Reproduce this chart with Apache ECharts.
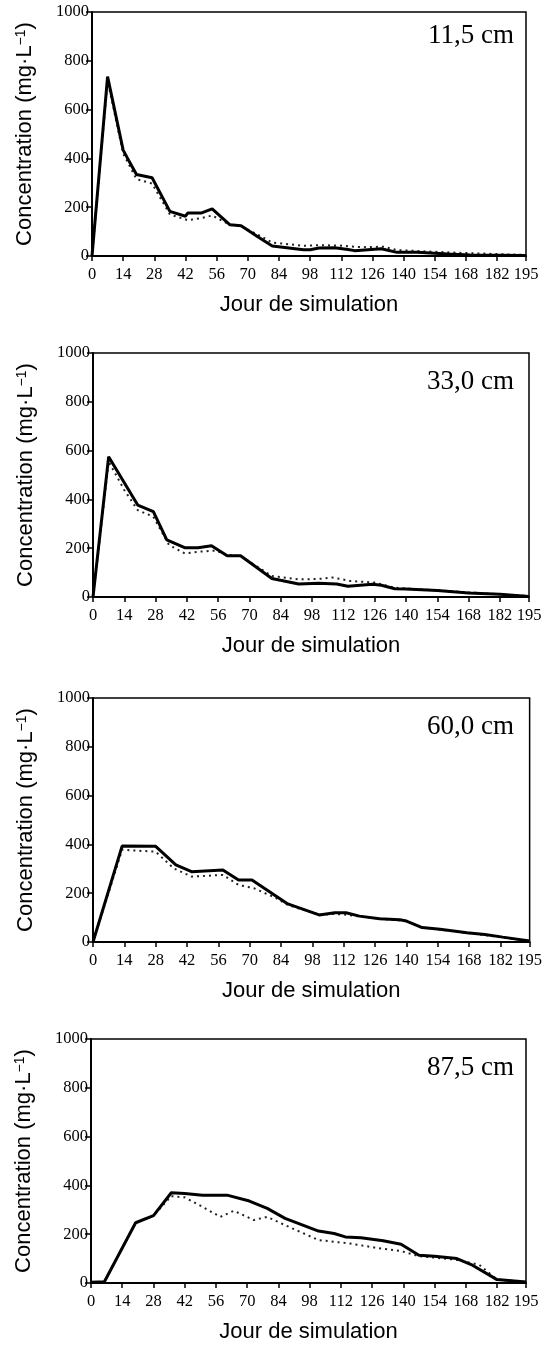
<!DOCTYPE html>
<html>
<head>
<meta charset="utf-8">
<script src="https://cdn.jsdelivr.net/npm/echarts@6/dist/echarts.min.js"></script>
<style>
  html, body { margin: 0; padding: 0; background: #fff; }
  #chart { width: 545px; height: 1346px; }
</style>
</head>
<body>
<div id="chart"></div>
<script>
// profondeurs (titres des panneaux)
const depths = ['11,5 cm', '33,0 cm', '60,0 cm', '87,5 cm'];
const xTicks = [0, 14, 28, 42, 56, 70, 84, 98, 112, 126, 140, 154, 168, 182, 195];
const yTicks = [0, 200, 400, 600, 800, 1000];

// 11,5 cm
const days1a = [0, 7, 14, 16, 20, 27, 35, 42, 43, 49, 54, 62, 67, 75, 81, 95, 98, 102, 109, 115, 118, 130, 137, 146, 160, 170, 195];
const conc1a = [0, 735, 434, 400, 334, 321, 183, 163, 176, 176, 193, 128, 124, 76, 41, 26, 26, 33, 34, 27, 22, 30, 15, 15, 8, 4, 2];
const days1b = [0, 7, 14, 20, 27, 35, 43, 49, 54, 62, 67, 75, 81, 95, 102, 111, 121, 131, 137, 162, 195];
const conc1b = [0, 720, 420, 315, 297, 170, 147, 155, 166, 128, 122, 85, 55, 42, 44, 43, 36, 38, 24, 14, 4];

// 33,0 cm
const days2a = [0, 7, 20, 27, 33, 41, 47, 53, 60, 66, 80, 92, 101, 109, 114, 125, 129, 135, 140, 154, 168, 182, 195];
const conc2a = [0, 575, 377, 350, 234, 202, 202, 210, 169, 169, 76, 53, 56, 53, 44, 52, 48, 34, 33, 27, 16, 11, 2];
const days2b = [0, 7, 14, 20, 27, 34, 41, 48, 55, 60, 66, 80, 92, 101, 107, 115, 126, 135, 154, 195];
const conc2b = [0, 555, 438, 356, 329, 213, 179, 186, 190, 172, 168, 86, 72, 74, 80, 66, 59, 38, 27, 4];

// 60,0 cm
const days3a = [0, 13, 28, 37, 44, 58, 65, 71, 87, 101, 108, 113, 119, 128, 137, 140, 147, 155, 167, 175, 183, 195];
const conc3a = [0, 393, 392, 316, 288, 295, 254, 254, 156, 111, 120, 120, 106, 95, 91, 86, 59, 52, 38, 31, 20, 4];
const days3b = [0, 13, 28, 36, 44, 58, 65, 72, 82, 87, 101, 108, 113, 128, 140, 147, 167, 195];
const conc3b = [0, 378, 370, 302, 268, 275, 234, 220, 179, 152, 111, 115, 112, 95, 86, 59, 38, 4];

// 87,5 cm
const days4a = [0, 6, 20, 28, 36, 42, 50, 61, 71, 79, 87, 102, 109, 114, 121, 131, 139, 147, 154, 164, 171, 182, 195];
const conc4a = [3, 5, 247, 276, 370, 367, 360, 360, 336, 306, 265, 213, 203, 189, 185, 173, 159, 114, 110, 100, 73, 14, 4];
const days4b = [0, 6, 20, 28, 36, 42, 50, 58, 64, 73, 79, 87, 102, 116, 130, 139, 147, 163, 174, 182, 195];
const conc4b = [3, 5, 247, 276, 356, 351, 312, 271, 296, 258, 271, 237, 176, 162, 141, 131, 110, 96, 75, 14, 4];

const solid = [[days1a, conc1a], [days2a, conc2a], [days3a, conc3a], [days4a, conc4a]];
const dotted = [[days1b, conc1b], [days2b, conc2b], [days3b, conc3b], [days4b, conc4b]];

// position des cadres (px)
const frames = [
  { top: 12, left: 92, right: 19 },
  { top: 353, left: 93, right: 16 },
  { top: 698, left: 93, right: 15 },
  { top: 1039, left: 91, right: 19 }
];

const pairs = (d, v) => d.map((x, i) => [x, v[i]]);

let chart = echarts.init(document.getElementById('chart'));
let grid = [], xAxis = [], yAxis = [], series = [], title = [];

frames.forEach((f, i) => {
  grid.push({
    left: f.left, right: f.right, top: f.top, height: 244,
    show: true, borderColor: '#000', borderWidth: 1.5
  });
  title.push({
    text: depths[i], right: 26, top: f.top + (i == 0 ? 5 : 10),
    textStyle: { fontFamily: 'Liberation Serif', fontSize: 27, fontWeight: 'normal', color: '#000' }
  });
  xAxis.push({
    type: 'value', gridIndex: i, min: xTicks[0], max: xTicks[xTicks.length - 1], interval: 14,
    name: 'Jour de simulation', nameLocation: 'middle', nameGap: 38,
    nameTextStyle: { fontFamily: 'Liberation Sans', fontSize: 22, color: '#000' },
    axisLine: { lineStyle: { color: '#000', width: 2 } },
    axisTick: { length: 5, lineStyle: { color: '#000', width: 1.5 } },
    axisLabel: { margin: 10, fontFamily: 'Liberation Serif', fontSize: 16.5, color: '#000' },
    splitLine: { show: false }
  });
  yAxis.push({
    type: 'value', gridIndex: i, min: yTicks[0], max: yTicks[yTicks.length - 1], interval: 200,
    name: 'Concentration (mg·L{s|−1})', nameLocation: 'middle', nameGap: 56,
    nameTextStyle: {
      fontFamily: 'Liberation Sans', fontSize: 22, color: '#000',
      rich: { s: { fontFamily: 'Liberation Sans', fontSize: 14, color: '#000', verticalAlign: 'top', lineHeight: 16 } }
    },
    axisLine: { show: true, lineStyle: { color: '#000', width: 2 } },
    axisTick: { show: true, length: 6, lineStyle: { color: '#000', width: 1.5 } },
    axisLabel: {
      margin: 3, fontFamily: 'Liberation Serif', fontSize: 16.5, color: '#000',
      formatter: v => String(v)
    },
    splitLine: { show: false }
  });
  series.push({
    type: 'line', xAxisIndex: i, yAxisIndex: i, symbol: 'none',
    data: pairs(dotted[i][0], dotted[i][1]),
    lineStyle: { color: '#222', width: 2, type: [2, 4] },
    z: 2
  });
  series.push({
    type: 'line', xAxisIndex: i, yAxisIndex: i, symbol: 'none',
    data: pairs(solid[i][0], solid[i][1]),
    lineStyle: { color: '#000', width: 3 },
    z: 3
  });
});

chart.setOption({
  animation: false,
  title: title,
  grid: grid,
  xAxis: xAxis,
  yAxis: yAxis,
  series: series
});
</script>
</body>
</html>
